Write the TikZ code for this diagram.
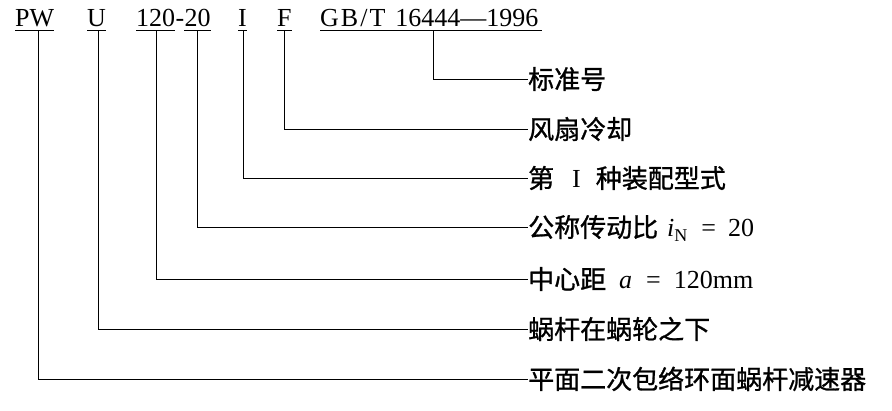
\documentclass[tikz,border=0pt]{standalone}
\usepackage{fontspec}
\setmainfont{Liberation Serif}
\newfontfamily\cjk{Noto Sans CJK SC}[FakeBold=1]
\newcommand\latn[1]{{\rmfamily #1}}
\newcommand\ital[1]{{\rmfamily\itshape #1}}
\newcommand\subN{\raisebox{-5pt}{\rmfamily\fontsize{18}{20}\selectfont N}}
\begin{document}
\begin{tikzpicture}[x=1pt,y=-1pt,
  hdr/.style={anchor=base west, inner sep=0pt, font=\fontsize{26}{30}\selectfont, text depth=3.5pt},
  lab/.style={anchor=west, inner sep=0pt, font=\fontsize{26}{30}\selectfont\cjk, text height=21.6pt, text depth=1.8pt},
  ul/.style={line width=0.8pt, black},
  conn/.style={line width=0.8pt, black}]
\useasboundingbox (0,0) rectangle (892,410);
% header code
\node[hdr] (pw) at (15,26.5) {PW};
\node[hdr] (u) at (87,26.5) {U};
\node[hdr] (n120) at (136,26.5) {120};
\node[hdr] (hy) at (n120.base east) {-};
\node[hdr] (n20) at (hy.base east) {20};
\node[hdr] (ci) at (238,26.5) {I};
\node[hdr] (f) at (277,26.5) {F};
\node[hdr] (gb) at (320,26.5) {G\kern2pt B\kern2pt/\kern2pt T\hspace{10pt}16444—1996\kern3pt};
\foreach \n in {pw,u,n120,n20,ci,f,gb}
  \draw[ul] (\n.south west) -- (\n.south east);
% labels
\node[lab] (l1) at (528,79) {标准号};
\node[lab] (l2) at (528,129) {风扇冷却};
\node[lab] (l3) at (528,178) {第\hspace{18pt}\latn{I}\hspace{15pt}种装配型式};
\node[lab] (l4) at (528,227) {公称传动比\hspace{9pt}\ital{i}\subN\hspace{14pt}\latn{=}\hspace{12pt}\latn{20}};
\node[lab] (l5) at (528,279) {中心距\hspace{13pt}\ital{a}\hspace{14pt}\latn{=}\hspace{13pt}\latn{120mm}};
\node[lab] (l6) at (528,329) {蜗杆在蜗轮之下};
\node[lab] (l7) at (528,379) {平面二次包络环面蜗杆减速器};
% connector tops
\coordinate (tgb) at (433,30);
\coordinate (tf) at (284,30);
\coordinate (ti) at (243,30);
\coordinate (t20) at (197,30);
\coordinate (t120) at (156,30);
\coordinate (tu) at (98,30);
\coordinate (tpw) at (38,30);
\draw[conn] (tgb) |- (l1.west);
\draw[conn] (tf) |- (l2.west);
\draw[conn] (ti) |- (l3.west);
\draw[conn] (t20) |- (l4.west);
\draw[conn] (t120) |- (l5.west);
\draw[conn] (tu) |- (l6.west);
\draw[conn] (tpw) |- (l7.west);
\end{tikzpicture}
\end{document}
